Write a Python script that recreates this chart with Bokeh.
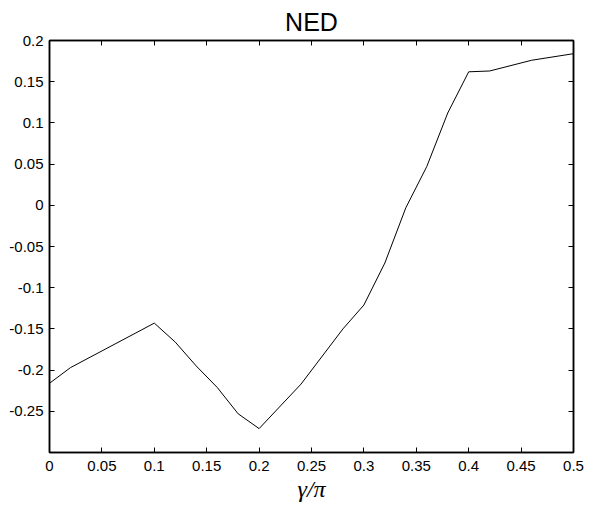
from bokeh.plotting import figure
from bokeh.models import LinearAxis, FixedTicker, Range1d
from bokeh.embed import file_html
from bokeh.resources import INLINE

# data
gamma_over_pi = [0, 0.02, 0.1, 0.12, 0.14, 0.16, 0.18, 0.2, 0.24, 0.28, 0.3,
                 0.32, 0.34, 0.36, 0.38, 0.4, 0.42, 0.46, 0.5]
ned = [-0.216, -0.197, -0.143, -0.166, -0.195, -0.221, -0.253, -0.271, -0.217,
       -0.150, -0.121, -0.070, -0.003, 0.047, 0.112, 0.162, 0.163, 0.176, 0.184]

x_ticks = [0, 0.05, 0.1, 0.15, 0.2, 0.25, 0.3, 0.35, 0.4, 0.45, 0.5]
x_tick_labels = ["0", "0.05", "0.1", "0.15", "0.2", "0.25", "0.3", "0.35", "0.4", "0.45", "0.5"]
y_ticks = [-0.25, -0.2, -0.15, -0.1, -0.05, 0, 0.05, 0.1, 0.15, 0.2]
y_tick_labels = ["-0.25", "-0.2", "-0.15", "-0.1", "-0.05", "0", "0.05", "0.1", "0.15", "0.2"]

FONT = "Liberation Sans"

p = figure(frame_width=524, frame_height=412,
           x_range=Range1d(0, 0.5), y_range=Range1d(-0.3, 0.2),
           output_backend="svg", toolbar_location=None,
           min_border_left=49, min_border_top=40, min_border_right=23, min_border_bottom=10,
           title="NED")
p.background_fill_color = "white"
p.border_fill_color = "white"
p.outline_line_color = "black"
p.outline_line_width = 1.5
p.grid.visible = False

p.title.align = "center"
p.title.text_font = FONT
p.title.text_font_style = "normal"
p.title.text_font_size = "25px"
p.title.text_color = "black"
p.title.standoff = 9

p.line(gamma_over_pi, ned, line_color="black", line_width=1)

def style(ax, ticks, labels, show_labels):
    ax.ticker = FixedTicker(ticks=ticks)
    ax.major_tick_in = 5
    ax.major_tick_out = 0
    ax.minor_tick_in = 0
    ax.minor_tick_out = 0
    ax.axis_line_color = "black"
    ax.axis_line_width = 1.5
    ax.major_tick_line_color = "black"
    ax.major_tick_line_width = 1
    ax.major_label_text_font = FONT
    if show_labels:
        ax.major_label_overrides = {t: l for t, l in zip(ticks, labels)}
        ax.major_label_text_font_size = "15px"
        ax.major_label_text_color = "black"
    else:
        ax.major_label_text_font_size = "0px"
        ax.major_label_text_color = None
        ax.major_label_standoff = 0

xa = p.xaxis[0]
style(xa, x_ticks, x_tick_labels, True)
xa.major_label_standoff = 8
xa.axis_label = "γ/π"
xa.axis_label_text_font = "Liberation Serif"
xa.axis_label_text_font_style = "italic"
xa.axis_label_text_font_size = "24px"
xa.axis_label_standoff = 2
xa.axis_label_text_color = "black"

ya = p.yaxis[0]
style(ya, y_ticks, y_tick_labels, True)
ya.major_label_standoff = 6

top = LinearAxis()
style(top, x_ticks, x_tick_labels, False)
p.add_layout(top, "above")
right = LinearAxis()
style(right, y_ticks, y_tick_labels, False)
p.add_layout(right, "right")

open("out.html", "w").write(file_html(p, INLINE))
